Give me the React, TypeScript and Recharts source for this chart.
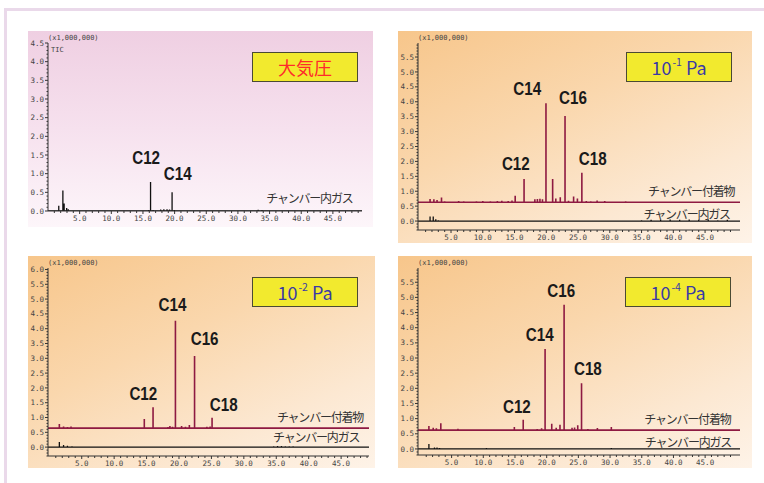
import { ComposedChart, Line, XAxis, YAxis, ReferenceDot } from 'recharts';

type Peak = [number, number]; // [retention time (min), height above baseline (x1,000,000)]
type Note = { text: string; t: number; v: number };

// ---- 大気圧 : chamber gas only ----
const atmGas: Peak[] = [
  [1.7, 0.14], [2.35, 0.55], [2.55, 0.2], [2.95, 0.08], [3.2, 0.05],
  [15.5, 0.02], [15.9, 0.03], [16.2, 0.78], [16.6, 0.03], [17.8, 0.04], [18.3, 0.05],
  [18.8, 0.05], [19.2, 0.04], [19.6, 0.5], [19.95, 0.03],
  [31.5, 0.015], [32.5, 0.02], [33.2, 0.035], [33.8, 0.03], [34.5, 0.02], [36, 0.015],
  [37.5, 0.02], [39, 0.015], [41, 0.02], [43, 0.015], [45, 0.02], [47, 0.015], [48.5, 0.02],
];

// ---- 10^-1 Pa ----
const pa1Deposit: Peak[] = [
  [1.7, 0.11], [2.3, 0.1], [2.8, 0.08], [3.5, 0.16], [4.0, 0.03], [5.0, 0.02], [6.2, 0.04],
  [7.0, 0.03], [7.8, 0.02], [9.0, 0.03], [10.0, 0.04], [11.2, 0.03], [12.3, 0.04], [13.0, 0.05],
  [14.0, 0.04], [14.6, 0.06], [15.1, 0.22], [16.5, 0.78], [18.2, 0.1], [18.6, 0.11], [19.0, 0.12],
  [19.4, 0.1], [19.95, 3.32], [21.0, 0.78], [21.5, 0.13], [22.2, 0.17], [22.95, 2.89], [23.5, 0.05],
  [24.3, 0.19], [24.9, 0.13], [25.6, 0.99], [26.3, 0.04], [27.0, 0.03], [28.0, 0.06], [29.2, 0.04],
  [30.0, 0.02], [32.5, 0.03],
];
const pa1Gas: Peak[] = [
  [1.7, 0.15], [2.2, 0.15], [2.6, 0.06], [3.0, 0.03], [31, 0.02], [33, 0.02], [35, 0.03],
  [36.5, 0.04], [38, 0.04], [39.5, 0.05], [41, 0.04], [42.5, 0.05], [44, 0.04], [45.5, 0.05],
  [47, 0.03], [48.5, 0.04],
];

// ---- 10^-2 Pa ----
const pa2Deposit: Peak[] = [
  [1.55, 0.14], [2.2, 0.06], [2.8, 0.04], [3.35, 0.06], [5.0, 0.02], [7.0, 0.02], [9.0, 0.02],
  [11.0, 0.02], [13.0, 0.02], [14.65, 0.31], [16.0, 0.71], [18.3, 0.04], [18.6, 0.07], [19.0, 0.05],
  [19.45, 3.63], [20.4, 0.07], [21.0, 0.05], [21.6, 0.11], [22.4, 2.44], [23.2, 0.03], [24.3, 0.05],
  [24.8, 0.06], [25.1, 0.35], [27.0, 0.02], [30.5, 0.02], [31.5, 0.03],
];
const pa2Gas: Peak[] = [
  [1.55, 0.17], [2.2, 0.07], [2.8, 0.05], [3.5, 0.03], [4.5, 0.02], [5.5, 0.02], [6.5, 0.02],
  [7.5, 0.02], [8.5, 0.02], [9.5, 0.02], [14, 0.02], [30.5, 0.02], [31.5, 0.02], [34.6, 0.03],
  [35.2, 0.04], [35.8, 0.04], [36.4, 0.03], [37, 0.03], [37.6, 0.03],
];

// ---- 10^-4 Pa ----
const pa4Deposit: Peak[] = [
  [1.42, 0.14], [2.1, 0.08], [2.6, 0.06], [3.3, 0.23], [6.0, 0.05], [9.0, 0.03], [14.9, 0.1],
  [16.3, 0.34], [18.5, 0.04], [19.2, 0.06], [19.75, 2.68], [20.8, 0.21], [21.5, 0.08], [22.1, 0.18],
  [22.75, 4.14], [24.0, 0.08], [24.4, 0.09], [24.9, 0.16], [25.5, 1.55], [26.5, 0.04], [28.0, 0.07],
  [30.2, 0.1], [33.5, 0.03],
];
const pa4Gas: Peak[] = [
  [1.42, 0.16], [2.3, 0.05], [2.7, 0.05], [3.1, 0.03], [10, 0.02], [10.5, 0.03], [11.5, 0.02],
  [12.5, 0.02], [13.5, 0.02], [28, 0.02], [30.2, 0.03], [31.5, 0.02], [32.5, 0.02],
];

// peak annotations
const atmNotes: Note[] = [{ text: 'C12', t: 15.5, v: 1.44 }, { text: 'C14', t: 20.5, v: 1.01 }];
const pa1Notes: Note[] = [
  { text: 'C12', t: 15.2, v: 1.94 }, { text: 'C14', t: 17.0, v: 4.45 },
  { text: 'C16', t: 24.2, v: 4.15 }, { text: 'C18', t: 27.3, v: 2.1 },
];
const pa2Notes: Note[] = [
  { text: 'C12', t: 14.5, v: 1.83 }, { text: 'C14', t: 19.0, v: 4.81 },
  { text: 'C16', t: 23.95, v: 3.68 }, { text: 'C18', t: 26.9, v: 1.44 },
];
const pa4Notes: Note[] = [
  { text: 'C12', t: 15.3, v: 1.42 }, { text: 'C14', t: 18.9, v: 3.77 },
  { text: 'C16', t: 22.3, v: 5.24 }, { text: 'C18', t: 26.5, v: 2.65 },
];

// trace names (right-aligned)
const atmTraceNotes: Note[] = [{ text: 'チャンバー内ガス', t: 48.1, v: 0.32 }];
const pa1TraceNotes: Note[] = [{ text: 'チャンバー付着物', t: 49.6, v: 0.97 }, { text: 'チャンバー内ガス', t: 48.9, v: 0.2 }];
const pa2TraceNotes: Note[] = [{ text: 'チャンバー付着物', t: 48.4, v: 0.99 }, { text: 'チャンバー内ガス', t: 47.8, v: 0.33 }];
const pa4TraceNotes: Note[] = [{ text: 'チャンバー付着物', t: 49.0, v: 0.95 }, { text: 'チャンバー内ガス', t: 49.1, v: 0.22 }];

const xMajor = [5, 10, 15, 20, 25, 30, 35, 40, 45];
const xMinor = [1, 2, 3, 4, 6, 7, 8, 9, 11, 12, 13, 14, 16, 17, 18, 19, 21, 22, 23, 24, 26, 27, 28, 29,
  31, 32, 33, 34, 36, 37, 38, 39, 41, 42, 43, 44, 46, 47, 48, 49];

const MAROON = '#8e1a42';
const INK = '#111';
const AXIS = '#333';
const MONO = '"DejaVu Sans Mono", monospace';

const yTicksFor = (lo: number, hi: number) => {
  const out: number[] = [];
  for (let i = Math.ceil(lo * 10 - 1e-6); i <= Math.floor(hi * 10 + 1e-6); i++) out.push(i / 10);
  return out;
};

const traceRows = (peaks: Peak[], base: number, key: string, dom: number[]) => {
  const rows: any[] = [{ t: dom[0], [key]: base }];
  [...peaks].sort((a, b) => a[0] - b[0]).forEach(([t, h]) => {
    rows.push({ t, [key]: base }, { t, [key]: base + h }, { t, [key]: base });
  });
  rows.push({ t: dom[1], [key]: base });
  return rows;
};

const XTick = (props: any) => {
  const { x, y, payload } = props;
  const major = payload.value % 5 === 0;
  return (
    <g>
      <line x1={x} y1={y} x2={x} y2={y + (major ? 3 : 2)} stroke={AXIS} strokeWidth={1} />
      {major && (
        <text x={x} y={y + 10} textAnchor="middle" fontSize={7.5} fontFamily={MONO} fill="#444">
          {Number(payload.value).toFixed(1)}
        </text>
      )}
    </g>
  );
};

const YTick = (props: any) => {
  const { x, y, payload } = props;
  const v = payload.value;
  const major = Math.abs(v * 2 - Math.round(v * 2)) < 1e-6 && v >= 0;
  return (
    <g>
      <line x1={x - (major ? 3 : 1.5)} y1={y} x2={x} y2={y} stroke={AXIS} strokeWidth={1} />
      {major && (
        <text x={x - 4} y={y + 2.6} textAnchor="end" fontSize={7.5} fontFamily={MONO} fill="#444">
          {v.toFixed(1)}
        </text>
      )}
    </g>
  );
};

// condensed bold peak name (C12, C14 ...)
const PeakLabel = (props: any) => {
  const vb = props.viewBox || { x: 0, y: 0, width: 0, height: 0 };
  const cx = vb.x + (vb.width || 0) / 2;
  const cy = vb.y + (vb.height || 0) / 2;
  return (
    <text transform={`translate(${cx},${cy}) scale(0.8,1)`} textAnchor="middle" dominantBaseline="central"
      fontFamily='"Liberation Sans", Arial, sans-serif' fontWeight="bold" fontSize={19} fill="#1a1a1a">
      {props.value}
    </text>
  );
};

type Frame = { left: number; top: number; right: number; bottom: number };

function Panel(p: {
  frame: Frame; xDomain: number[]; yDomain: number[]; gas: Peak[]; deposit?: Peak[]; base?: number;
  notes: Note[]; traceNotes: Note[]; tic?: boolean;
}) {
  const YW = 34, XH = 16, MT = 6, MR = 2;
  const f = p.frame;
  const w = f.right - f.left + YW + MR;
  const h = f.bottom - f.top + MT + XH;
  const rows = [
    ...traceRows(p.gas, 0, 'gas', p.xDomain),
    ...(p.deposit ? traceRows(p.deposit, p.base ?? 0, 'dep', p.xDomain) : []),
  ].sort((a, b) => a.t - b.t);
  return (
    <>
      <div style={{ position: 'absolute', left: f.left, top: f.top - 9, fontFamily: MONO, fontSize: 7, color: '#444', lineHeight: '8px', whiteSpace: 'nowrap' }}>
        (x1,000,000)
      </div>
      <div style={{ position: 'absolute', left: f.left - YW, top: f.top - MT }}>
        <ComposedChart width={w} height={h} data={rows} margin={{ top: MT, right: MR, left: 0, bottom: 0 }}>
          <XAxis dataKey="t" type="number" domain={p.xDomain} allowDataOverflow ticks={[...xMajor, ...xMinor]}
            interval={0} tick={XTick} tickLine={false} tickSize={0} tickMargin={0} height={XH}
            axisLine={{ stroke: AXIS }} />
          <XAxis xAxisId="top" orientation="top" type="number" domain={p.xDomain} height={0}
            tick={false} tickLine={false} axisLine={{ stroke: '#444' }} />
          <YAxis type="number" domain={p.yDomain} allowDataOverflow ticks={yTicksFor(p.yDomain[0], p.yDomain[1])}
            interval={0} tick={YTick} tickLine={false} tickSize={0} tickMargin={0} width={YW}
            axisLine={{ stroke: AXIS }} />
          <YAxis yAxisId="right" orientation="right" domain={[0, 1]} width={0} tick={false}
            tickLine={false} axisLine={{ stroke: '#7a7a7a', strokeWidth: 2 }} />
          {p.deposit && (
            <Line dataKey="dep" type="linear" stroke={MAROON} strokeWidth={1.6} dot={false} activeDot={false}
              connectNulls isAnimationActive={false} />
          )}
          <Line dataKey="gas" type="linear" stroke={INK} strokeWidth={1.3} dot={false} activeDot={false}
            connectNulls isAnimationActive={false} />
          {p.notes.map((n) => (
            <ReferenceDot key={n.text} x={n.t} y={n.v} r={0} stroke="none" fill="none"
              label={{ value: n.text, content: PeakLabel }} />
          ))}
          {p.traceNotes.map((n) => (
            <ReferenceDot key={n.text} x={n.t} y={n.v} r={0} stroke="none" fill="none"
              label={{ value: n.text, position: 'left', offset: 0, fill: '#333', fontSize: 12,
                fontFamily: '"Noto Sans CJK JP", sans-serif', style: { letterSpacing: '-1.2px' } }} />
          ))}
        </ComposedChart>
      </div>
      {p.tic && (
        <div style={{ position: 'absolute', left: f.left + 3, top: f.top + 3, fontFamily: MONO, fontSize: 7, color: '#444', lineHeight: '8px' }}>
          TIC
        </div>
      )}
    </>
  );
}

const Tag = ({ left, top, color, children }: any) => (
  <div style={{
    position: 'absolute', left, top, width: 106, height: 30, boxSizing: 'border-box',
    background: '#f2ea2e', border: '1px solid #4a4a33', display: 'flex', alignItems: 'center',
    justifyContent: 'center', fontFamily: '"Noto Sans CJK JP", "Noto Sans", sans-serif', fontSize: 18,
    color, whiteSpace: 'nowrap',
  }}>
    {children}
  </div>
);

const Sup = ({ children }: any) => (
  <span style={{ fontSize: 10.5, position: 'relative', top: -6, marginLeft: 1 }}>{children}</span>
);

const orangeBg = 'linear-gradient(155deg, #f7c68b 0%, #fad7ad 40%, #fce8d2 75%, #fef3e8 100%)';
const pinkBg = 'linear-gradient(180deg, #efcfe2 0%, #f6e1ee 50%, #fdf6fa 100%)';

export default function App() {
  return (
    <div style={{ position: 'absolute', left: 0, top: 0, width: 764, height: 483, background: '#fff', overflow: 'hidden' }}>
      <div style={{ position: 'absolute', left: 4, top: 8, width: 760, height: 3, background: '#ead9ea' }} />
      <div style={{ position: 'absolute', left: 4, top: 8, width: 3, height: 475, background: '#ead9ea' }} />

      <div style={{ position: 'absolute', left: 28, top: 31, width: 345, height: 196, background: pinkBg }} />
      <div style={{ position: 'absolute', left: 398, top: 31, width: 354, height: 212, background: orangeBg }} />
      <div style={{ position: 'absolute', left: 28, top: 256, width: 347, height: 212, background: orangeBg }} />
      <div style={{ position: 'absolute', left: 398, top: 256, width: 354, height: 212, background: orangeBg }} />

      <Panel frame={{ left: 48, top: 43, right: 362, bottom: 211 }} xDomain={[0, 49.6]} yDomain={[0, 4.5]}
        gas={atmGas} notes={atmNotes} traceNotes={atmTraceNotes} tic />
      <Panel frame={{ left: 418, top: 43, right: 740, bottom: 230 }} xDomain={[-0.2, 50.5]} yDomain={[-0.3, 5.97]}
        gas={pa1Gas} deposit={pa1Deposit} base={0.63} notes={pa1Notes} traceNotes={pa1TraceNotes} />
      <Panel frame={{ left: 48, top: 268, right: 369, bottom: 456 }} xDomain={[-0.2, 49.3]} yDomain={[-0.3, 6.05]}
        gas={pa2Gas} deposit={pa2Deposit} base={0.64} notes={pa2Notes} traceNotes={pa2TraceNotes} />
      <Panel frame={{ left: 418, top: 268, right: 740, bottom: 455 }} xDomain={[-0.3, 50.5]} yDomain={[-0.2, 5.97]}
        gas={pa4Gas} deposit={pa4Deposit} base={0.62} notes={pa4Notes} traceNotes={pa4TraceNotes} />

      <Tag left={252} top={52} color="#ff2a2a">大気圧</Tag>
      <Tag left={626} top={52} color="#3a3aa6">10<Sup>-1</Sup>&nbsp;Pa</Tag>
      <Tag left={252} top={277} color="#3a3aa6">10<Sup>-2</Sup>&nbsp;Pa</Tag>
      <Tag left={625} top={277} color="#3a3aa6">10<Sup>-4</Sup>&nbsp;Pa</Tag>
    </div>
  );
}
